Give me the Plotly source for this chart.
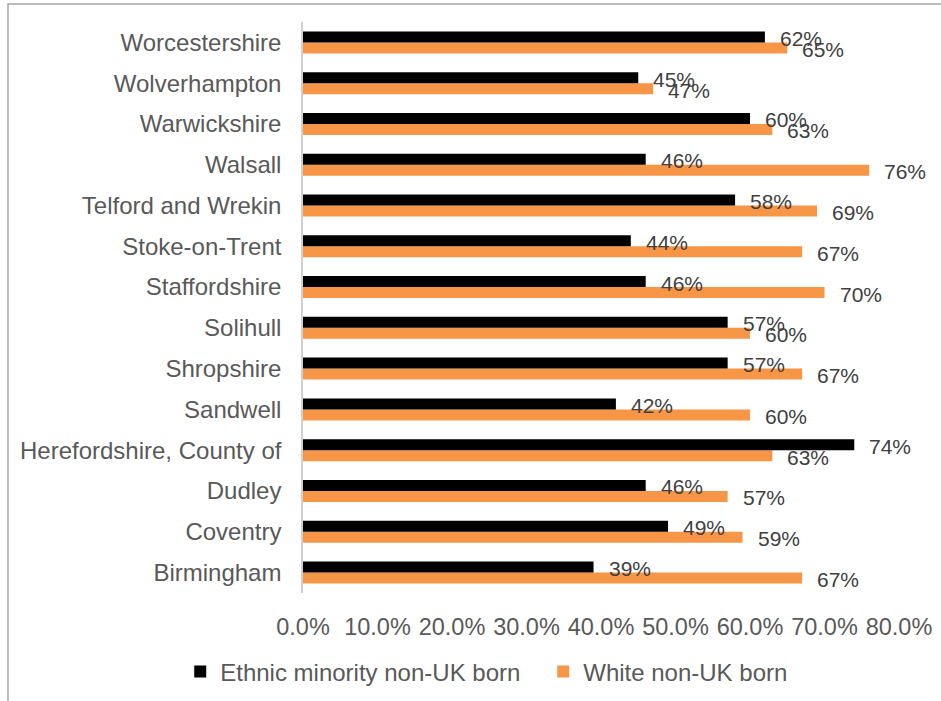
import plotly.graph_objects as go

# Local authorities, listed bottom to top as drawn on the category axis
districts = [
    "Birmingham", "Coventry", "Dudley", "Herefordshire, County of", "Sandwell",
    "Shropshire", "Solihull", "Staffordshire", "Stoke-on-Trent",
    "Telford and Wrekin", "Walsall", "Warwickshire", "Wolverhampton",
    "Worcestershire",
]
# Share (%) for each group
ethnic_minority_pct = [39, 49, 46, 74, 42, 57, 57, 46, 44, 58, 46, 60, 45, 62]
white_pct = [67, 59, 57, 63, 60, 67, 60, 70, 67, 69, 76, 63, 47, 65]

x_ticks = [0.0, 0.1, 0.2, 0.3, 0.4, 0.5, 0.6, 0.7, 0.8]

BLACK = "#000000"
ORANGE = "#F79646"
AXIS_TEXT = "#595959"
LABEL_TEXT = "#404040"
FONT = "Liberation Sans, Arial, sans-serif"

ethnic_frac = [v / 100 for v in ethnic_minority_pct]
white_frac = [v / 100 for v in white_pct]

fig = go.Figure()
# Second series first so it sits lower within each category group
fig.add_trace(go.Bar(
    y=districts, x=white_frac, orientation="h", name="White non-UK born",
    marker=dict(color=ORANGE, line=dict(width=0)), legendrank=2,
))
fig.add_trace(go.Bar(
    y=districts, x=ethnic_frac, orientation="h",
    name="Ethnic minority non-UK born",
    marker=dict(color=BLACK, line=dict(width=0)), legendrank=1,
))

annotations = []
for d, v in zip(districts, ethnic_minority_pct):
    annotations.append(dict(
        x=v / 100, y=d, xref="x", yref="y", text=f"{v}%", showarrow=False,
        xanchor="left", yanchor="middle", xshift=13, yshift=4,
        font=dict(family=FONT, size=21, color=LABEL_TEXT),
    ))
for d, v in zip(districts, white_pct):
    annotations.append(dict(
        x=v / 100, y=d, xref="x", yref="y", text=f"{v}%", showarrow=False,
        xanchor="left", yanchor="middle", xshift=13, yshift=-7,
        font=dict(family=FONT, size=21, color=LABEL_TEXT),
    ))

fig.update_layout(
    width=941, height=701,
    margin=dict(l=303, r=42, t=22, b=108, autoexpand=False),
    paper_bgcolor="white", plot_bgcolor="white",
    barmode="group", bargap=0.46, bargroupgap=0,
    font=dict(family=FONT, size=24, color=AXIS_TEXT),
    showlegend=True,
    legend=dict(
        orientation="h", xref="paper", yref="paper",
        x=-0.206, y=-0.138, xanchor="left", yanchor="middle",
        font=dict(family=FONT, size=24, color=AXIS_TEXT),
        entrywidth=318, bgcolor="rgba(0,0,0,0)",
    ),
    annotations=annotations,
    shapes=[dict(
        type="rect", xref="paper", yref="paper",
        x0=-0.495, x1=1.3, y0=-0.4, y1=1.0315,
        line=dict(color="#a6a6a6", width=1.5), layer="below",
    )],
)

fig.update_xaxes(
    range=[0, 0.8], tickvals=x_ticks, tickformat=".1%",
    showgrid=False, zeroline=False, showline=False, ticks="",
    ticklabelstandoff=17,
    tickfont=dict(family=FONT, size=23.5, color=AXIS_TEXT),
)
fig.update_yaxes(
    type="category", categoryorder="array", categoryarray=districts,
    showgrid=False, zeroline=False, showline=True,
    linecolor="#d0d0d0", linewidth=1.5, ticks="",
    ticklabelstandoff=15,
    tickfont=dict(family=FONT, size=24, color=AXIS_TEXT),
)

fig.write_html("out.html")
